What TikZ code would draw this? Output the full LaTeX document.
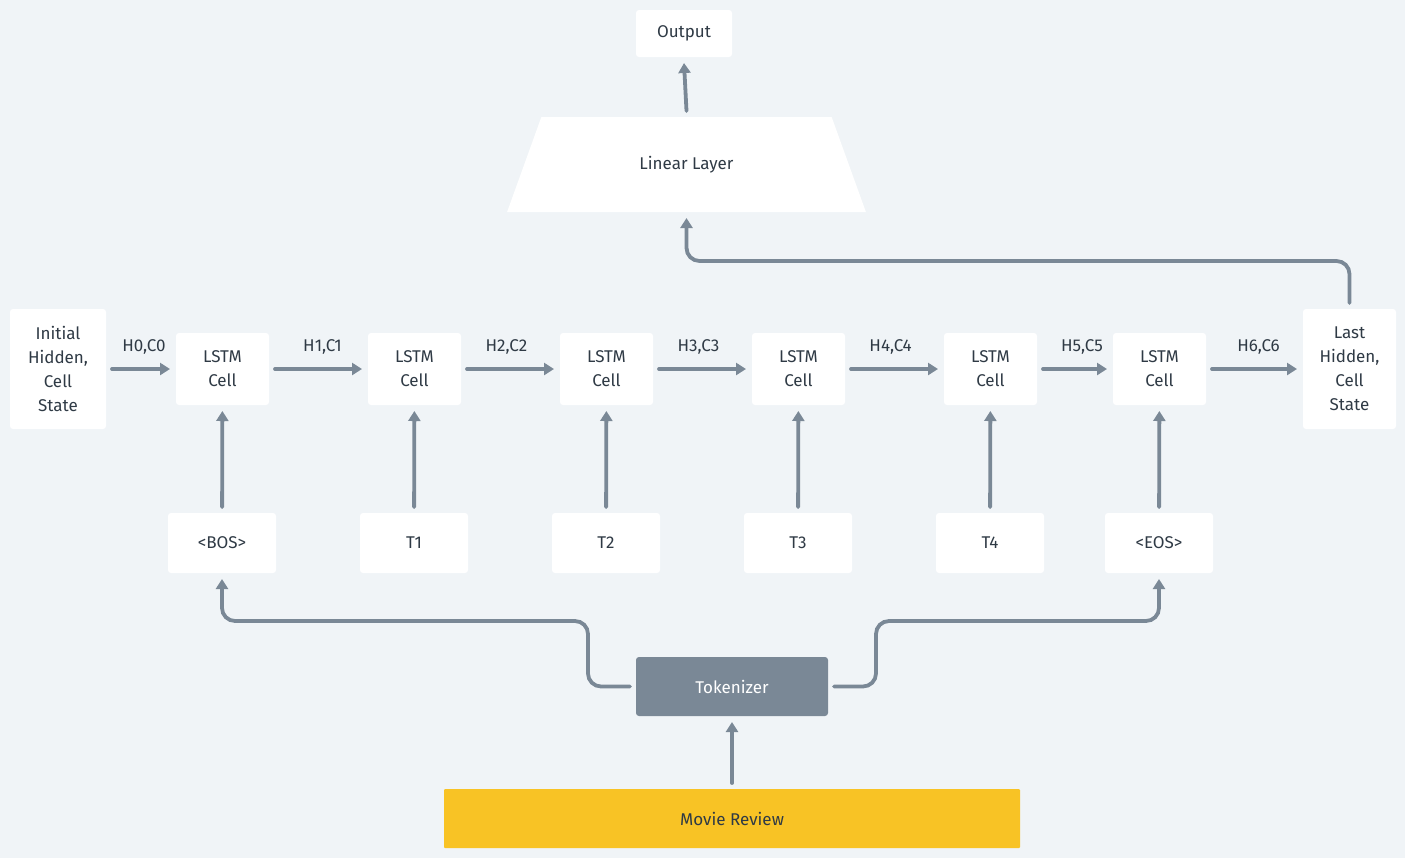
\documentclass[tikz,border=0pt]{standalone}
\usepackage{fontspec}
\setmainfont{Fira Sans}
\usetikzlibrary{arrows.meta,shapes.geometric}

\definecolor{paper}{HTML}{F0F4F7}
\definecolor{wire}{HTML}{7A8896}
\definecolor{ink}{HTML}{2F3A45}
\definecolor{gold}{HTML}{F8C325}

\begin{document}
\begin{tikzpicture}[
  x=0.5pt, y=-0.5pt,
  every node/.style={inner sep=1pt, text=ink, font=\fontsize{8.5}{12}\selectfont},
  box/.style={rectangle, fill=white, rounded corners=1.5pt, outer sep=3pt, align=center},
  cell/.style={box, minimum width=46.5pt, minimum height=36pt},
  state/.style={box, minimum width=48pt, minimum height=60pt},
  token/.style={box, minimum width=54pt, minimum height=30pt},
  layer/.style={trapezium, trapezium angle=61, trapezium stretches=true,
    fill=white, minimum width=179.5pt, minimum height=47.5pt, outer sep=3pt},
  % one arrow kind throughout, with a filled head
  arrow/.style={draw=wire, line width=1.9pt, line cap=round,
    -{Triangle[length=5pt, width=6pt]}},
  elbow/.style={arrow, rounded corners=6.5pt},
  lbl/.style={midway, above=5.5pt}]

  % page
  \fill[paper] (0,0) rectangle (1405,858);
  \useasboundingbox (0,0) rectangle (1405,858);

  % top
  \node[box, minimum width=48pt, minimum height=23.5pt] (out) at (684,33.5) {Output};
  \node[layer] (lin) at (686.5,164.5) {Linear Layer};

  % recurrent chain
  \node[state] (init) at (58,369) {Initial\\Hidden,\\Cell\\State};
  \node[cell] (c1) at (222.5,369) {LSTM\\Cell};
  \node[cell] (c2) at (414.5,369) {LSTM\\Cell};
  \node[cell] (c3) at (606.5,369) {LSTM\\Cell};
  \node[cell] (c4) at (798.5,369) {LSTM\\Cell};
  \node[cell] (c5) at (990.5,369) {LSTM\\Cell};
  \node[cell] (c6) at (1159.5,369) {LSTM\\Cell};
  \node[state, minimum width=46.5pt] (last) at (1349.5,369) {Last\\Hidden,\\Cell\\State};

  % tokens
  \node[token] (bos) at (222,543) {<BOS>};
  \node[token] (t1)  at (414,543) {T1};
  \node[token] (t2)  at (606,543) {T2};
  \node[token] (t3)  at (798,543) {T3};
  \node[token] (t4)  at (990,543) {T4};
  \node[token] (eos) at (1159,543) {<EOS>};

  % input side
  \node[box, fill=wire, text=white, minimum width=96pt, minimum height=29.5pt] (tok) at (732,686.5) {Tokenizer};
  \node[box, fill=gold, rounded corners=0.5pt, minimum width=288pt, minimum height=29.5pt] (rev) at (732,818.5) {Movie Review};

  % arrows along the chain
  \draw[arrow] (init) -- node[lbl, xshift=1.5pt] {H0,C0} (c1);
  \draw[arrow] (c1) -- node[lbl, xshift=2pt] {H1,C1} (c2);
  \draw[arrow] (c2) -- node[lbl, xshift=-2pt] {H2,C2} (c3);
  \draw[arrow] (c3) -- node[lbl, xshift=-2pt] {H3,C3} (c4);
  \draw[arrow] (c4) -- node[lbl, xshift=-2pt] {H4,C4} (c5);
  \draw[arrow] (c5) -- node[lbl, xshift=3.5pt] {H5,C5} (c6);
  \draw[arrow] (c6) -- node[lbl, xshift=2pt] {H6,C6} (last);

  % tokens into cells
  \draw[arrow] (bos) -- (c1);
  \draw[arrow] (t1) -- (c2);
  \draw[arrow] (t2) -- (c3);
  \draw[arrow] (t3) -- (c4);
  \draw[arrow] (t4) -- (c5);
  \draw[arrow] (eos) -- (c6);

  % tokenizer and review
  \draw[arrow] (rev) -- (tok);
  \draw[elbow] (tok.west) -- (588,686.5) -- (588,621) -| (bos.south);
  \draw[elbow] (tok.east) -- (876,686.5) -- (876,621) -| (eos.south);

  % last state to the output
  \draw[elbow] (last.north) -- (1349.5,261) -| (lin.south);
  \draw[arrow] (lin.north) -- (out.south);
\end{tikzpicture}
\end{document}
